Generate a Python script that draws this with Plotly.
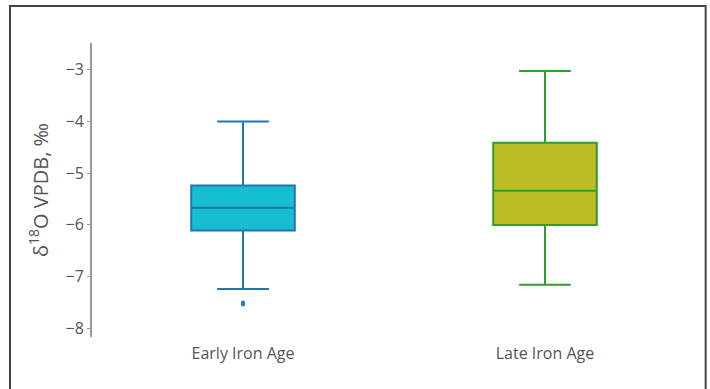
import plotly.graph_objects as go

periods = ["Early Iron Age", "Late Iron Age"]
q1 = [-6.11, -6.00]
medians = [-5.67, -5.34]
q3 = [-5.24, -4.41]
lower_fence = [-7.24, -7.16]
upper_fence = [-4.00, -3.02]
fill_colors = ["#17becf", "#bcbd22"]
line_colors = ["#1f77b4", "#2ca02c"]

outlier_period = ["Early Iron Age", "Early Iron Age"]
outlier_values = [-7.50, -7.54]

fig = go.Figure()
for i, period in enumerate(periods):
    fig.add_trace(
        go.Box(
            x=[period],
            q1=[q1[i]],
            median=[medians[i]],
            q3=[q3[i]],
            lowerfence=[lower_fence[i]],
            upperfence=[upper_fence[i]],
            name=period,
            fillcolor=fill_colors[i],
            line={"color": line_colors[i], "width": 2},
            boxpoints=False,
            showlegend=False,
        )
    )

fig.add_trace(
    go.Scatter(
        x=outlier_period,
        y=outlier_values,
        mode="markers",
        marker={"color": line_colors[0], "size": 4},
        showlegend=False,
        hoverinfo="y",
    )
)

# outer frame round the figure
fig.add_shape(
    type="rect",
    xref="paper",
    yref="paper",
    x0=-0.1358,
    x1=1.016,
    y0=-0.3,
    y1=1.126,
    line={"color": "#444444", "width": 2},
    layer="below",
)

fig.update_layout(
    width=710,
    height=389,
    template="plotly_white",
    plot_bgcolor="white",
    paper_bgcolor="white",
    boxgap=0.51,
    margin={"l": 92, "r": 14, "t": 43, "b": 52},
    font={"family": "Open Sans, sans-serif", "size": 16, "color": "#555555"},
)
fig.update_xaxes(
    showgrid=False,
    zeroline=False,
    showline=False,
    ticklen=2,
    ticks="outside",
    tickcolor="rgba(0,0,0,0)",
    tickfont={"size": 16, "color": "#555555"},
)
fig.update_yaxes(
    range=[-8.17, -2.48],
    dtick=1,
    showgrid=False,
    zeroline=False,
    showline=True,
    linecolor="#999999",
    linewidth=2,
    ticks="outside",
    ticklen=3,
    tickcolor="#999999",
    tickfont={"size": 16, "color": "#555555"},
    title={"text": "δ<sup>18</sup>O VPDB, ‰", "font": {"size": 20, "color": "#555555"}, "standoff": 12},
)

# drop the browser's default body margin so the figure sits at the page corner
fig.write_html(
    "out.html",
    config={"displayModeBar": False},
    post_script="document.body.style.margin = '0px';",
)
